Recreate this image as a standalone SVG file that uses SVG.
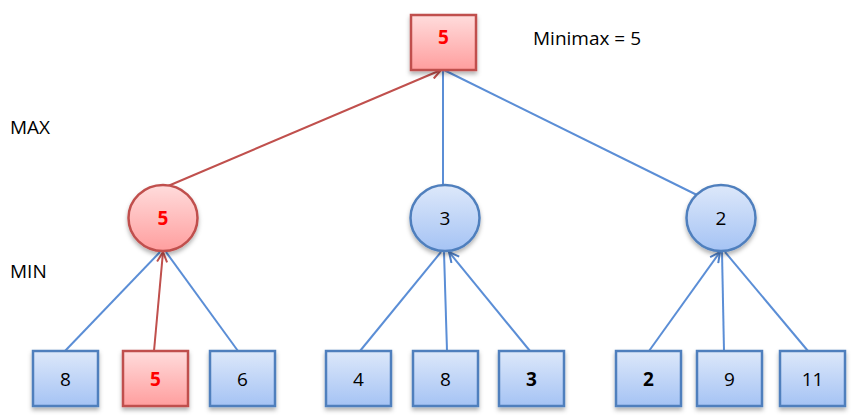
<svg xmlns="http://www.w3.org/2000/svg" width="858" height="418" viewBox="0 0 858 418">
<defs>
<linearGradient id="gb" x1="0" y1="0" x2="0" y2="1"><stop offset="0" stop-color="#dde8fa"/><stop offset="1" stop-color="#a5c3f4"/></linearGradient>
<linearGradient id="gr" x1="0" y1="0" x2="0" y2="1"><stop offset="0" stop-color="#ffdcdc"/><stop offset="1" stop-color="#ff9e9e"/></linearGradient>
<filter id="sh" x="-20%" y="-20%" width="140%" height="150%"><feDropShadow dx="0" dy="3" stdDeviation="2" flood-color="#000" flood-opacity="0.3"/></filter>
<marker id="ab" viewBox="0 0 12 12" refX="11" refY="6" markerWidth="12" markerHeight="12" markerUnits="userSpaceOnUse" orient="auto"><path d="M1,1 L11,6 L1,11" fill="none" stroke="#4f81c9" stroke-width="2"/></marker>
<marker id="ar" viewBox="0 0 12 12" refX="11" refY="6" markerWidth="12" markerHeight="12" markerUnits="userSpaceOnUse" orient="auto"><path d="M1,1 L11,6 L1,11" fill="none" stroke="#c0504d" stroke-width="2"/></marker>
</defs>
<style>
.b{fill:url(#gb);stroke:#4f7fbd;stroke-width:2.5;filter:url(#sh)}
.r{fill:url(#gr);stroke:#c0504d;stroke-width:2.5;filter:url(#sh)}
.t{font-family:"Open Sans","Liberation Sans",sans-serif;font-size:19px;fill:#000;text-anchor:middle}
.tr{font-family:"Open Sans","Liberation Sans",sans-serif;font-size:19px;fill:#ff0000;font-weight:bold;text-anchor:middle}
.bd{font-weight:bold}
.lb{stroke:#5b8ed6;stroke-width:2;fill:none}
.lr{stroke:#c0504d;stroke-width:2;fill:none}
.lab{font-family:"Open Sans","Liberation Sans",sans-serif;font-size:19px;fill:#000}
</style>
<g id="connectors">
<line class="lr" x1="168" y1="186" x2="441" y2="70" marker-end="url(#ar)"/>
<line class="lb" x1="443" y1="186" x2="443" y2="70"/>
<line class="lb" x1="697" y1="195" x2="444" y2="70"/>
<line class="lb" x1="65" y1="351" x2="160" y2="252"/>
<line class="lr" x1="154" y1="351" x2="163" y2="252" marker-end="url(#ar)"/>
<line class="lb" x1="238" y1="351" x2="166" y2="252"/>
<line class="lb" x1="360" y1="351" x2="441" y2="252"/>
<line class="lb" x1="447" y1="351" x2="444" y2="252"/>
<line class="lb" x1="530" y1="351" x2="449" y2="252" marker-end="url(#ab)"/>
<line class="lb" x1="649" y1="351" x2="720" y2="252" marker-end="url(#ab)"/>
<line class="lb" x1="724" y1="351" x2="722" y2="252"/>
<line class="lb" x1="808" y1="351" x2="725" y2="252"/>
</g>
<g id="root"><rect class="r" x="411" y="15" width="65" height="55"/><text class="tr" x="443.5" y="44">5</text></g>
<g id="minimax-label"><text class="lab" x="533" y="45">Minimax = 5</text></g>
<g id="max-label"><text class="lab" x="10" y="134">MAX</text></g>
<g id="min-label"><text class="lab" x="10" y="278">MIN</text></g>
<g id="min1"><ellipse class="r" cx="163" cy="218" rx="34.5" ry="33"/><text class="tr" x="163" y="225">5</text></g>
<g id="min2"><ellipse class="b" cx="445" cy="218" rx="34.5" ry="33"/><text class="t" x="445" y="225">3</text></g>
<g id="min3"><ellipse class="b" cx="721" cy="218" rx="34.5" ry="33"/><text class="t" x="721" y="225">2</text></g>
<g id="leaf1"><rect class="b" x="33" y="351" width="65" height="55"/><text class="t" x="65.5" y="386">8</text></g>
<g id="leaf2"><rect class="r" x="123" y="351" width="65" height="55"/><text class="tr" x="155.5" y="386">5</text></g>
<g id="leaf3"><rect class="b" x="210" y="351" width="65" height="55"/><text class="t" x="242.5" y="386">6</text></g>
<g id="leaf4"><rect class="b" x="326" y="351" width="65" height="55"/><text class="t" x="358.5" y="386">4</text></g>
<g id="leaf5"><rect class="b" x="413" y="351" width="65" height="55"/><text class="t" x="445.5" y="386">8</text></g>
<g id="leaf6"><rect class="b" x="499" y="351" width="65" height="55"/><text class="t bd" x="531.5" y="386">3</text></g>
<g id="leaf7"><rect class="b" x="616" y="351" width="65" height="55"/><text class="t bd" x="648.5" y="386">2</text></g>
<g id="leaf8"><rect class="b" x="697" y="351" width="65" height="55"/><text class="t" x="729.5" y="386">9</text></g>
<g id="leaf9"><rect class="b" x="780" y="351" width="65" height="55"/><text class="t" x="812.5" y="386">11</text></g>
</svg>
